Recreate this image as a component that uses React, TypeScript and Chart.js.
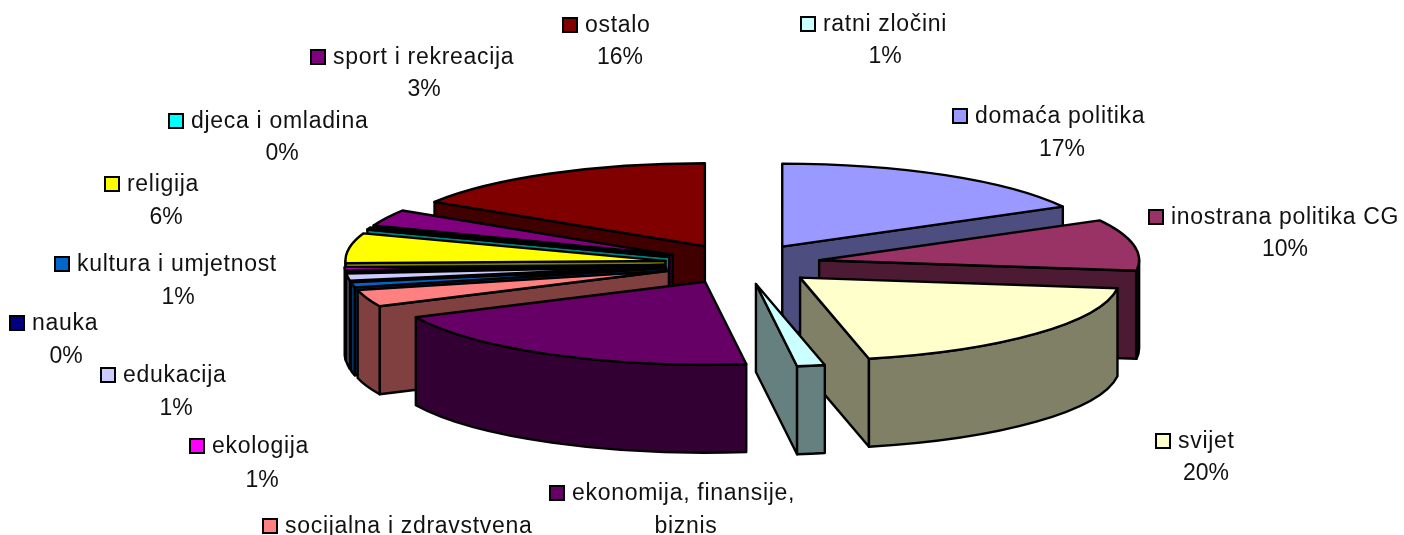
import React, { useEffect, useRef } from "react";
import { Chart, registerables } from "chart.js";

Chart.register(...registerables);

const categories = [
  "domaća politika", "inostrana politika CG", "svijet", "ratni zločini",
  "ekonomija, finansije, biznis", "socijalna i zdravstvena", "kultura i umjetnost",
  "edukacija", "nauka", "ekologija", "religija", "djeca i omladina",
  "sport i rekreacija", "ostalo",
];
const values = [17, 10, 19.5, 1.4, 20, 3.3, 1, 1.4, 0.3, 0.6, 5.8, 0.4, 3.2, 16];
const topColors = [
  "#9999FF", "#993366", "#FFFFCC", "#CCFFFF", "#660066", "#FF8080", "#0066CC",
  "#CCCCFF", "#000080", "#FF00FF", "#FFFF00", "#00FFFF", "#800080", "#800000",
];
const wallColors = [
  "#4D4D80", "#4D1A33", "#808066", "#668080", "#330033", "#804040", "#003366",
  "#666680", "#000040", "#800080", "#808000", "#008080", "#400040", "#400000",
];
// slices painted back to front
const paintOrder = [13, 0, 12, 11, 10, 9, 8, 7, 6, 5, 1, 2, 3, 4];

// label layout: marker left, marker centre y, percent/second line centre x, second line y
const labelLayout: number[][] = [
  [953, 116, 1062, 150], [1149, 217, 1285, 250], [1156, 441, 1206, 474], [801, 24, 885, 57],
  [550, 493, 686, 527], [263, 526, 0, 0], [55, 264, 178, 298],
  [101, 375, 176, 409], [10, 323, 66, 357], [190, 446, 262, 481], [105, 184, 166, 218],
  [169, 121, 282, 154], [311, 57, 424, 90], [563, 25, 620, 58],
];
// names whose text wraps differently from "name / percent"
const firstLineOverride: Record<number, string> = { 4: "ekonomija, finansije," };
const secondLineOverride: Record<number, string> = { 4: "biznis", 5: "" };

const CX = 742.5, CY = 264, RX = 320, RY = 83, DEPTH = 88, EXPLODE = 78;
const NAME_FONT = '23px "Liberation Sans", Arial, sans-serif';
const PCT_FONT = '23px "Liberation Sans", Arial, sans-serif';

const pie3d = {
  id: "pie3d",
  beforeDatasetsDraw(chart: any) {
    const ctx: CanvasRenderingContext2D = chart.ctx;
    const meta = chart.getDatasetMeta(0);
    for (const i of paintOrder) {
      const arc: any = meta.data[i];
      const { x, y, startAngle: s, endAngle: e, outerRadius: R } = arc;
      const sx = RX / R, sy = RY / R;
      const mid = (s + e) / 2;
      const ax = CX + EXPLODE * Math.cos(mid);
      const ay = CY + (EXPLODE * RY / RX) * Math.sin(mid);
      const pt = (a: number, dz = 0): [number, number] => [
        ax + RX * Math.cos(a), ay + RY * Math.sin(a) + dz,
      ];
      ctx.save();
      ctx.lineWidth = 2.4;
      ctx.lineJoin = "round";
      ctx.strokeStyle = "#000";
      ctx.fillStyle = wallColors[i];

      const quad = (a: number) => {
        const p = pt(a), q = pt(a, DEPTH);
        ctx.beginPath();
        ctx.moveTo(ax, ay);
        ctx.lineTo(p[0], p[1]);
        ctx.lineTo(q[0], q[1]);
        ctx.lineTo(ax, ay + DEPTH);
        ctx.closePath();
        ctx.fill();
        ctx.stroke();
      };
      if (Math.cos(s) < 0) quad(s);
      if (Math.cos(e) > 0) quad(e);

      const a0 = Math.max(s, 0), a1 = Math.min(e, Math.PI);
      if (a1 > a0) {
        ctx.beginPath();
        ctx.ellipse(ax, ay, RX, RY, 0, a0, a1);
        ctx.ellipse(ax, ay + DEPTH, RX, RY, 0, a1, a0, true);
        ctx.closePath();
        ctx.fill();
        ctx.stroke();
      }

      // top face: the library's own arc element, projected
      ctx.save();
      ctx.translate(ax, ay);
      ctx.scale(sx, sy);
      ctx.translate(-x, -y);
      arc.draw(ctx);
      ctx.restore();

      ctx.beginPath();
      ctx.moveTo(ax, ay);
      ctx.ellipse(ax, ay, RX, RY, 0, s, e);
      ctx.closePath();
      ctx.stroke();
      ctx.restore();
    }
    return false;
  },
  afterDraw(chart: any) {
    const ctx: any = chart.ctx;
    ctx.save();
    ctx.textBaseline = "middle";
    categories.forEach((name, i) => {
      const [mx, my, px, py] = labelLayout[i];
      ctx.fillStyle = topColors[i];
      ctx.strokeStyle = "#000";
      ctx.lineWidth = 2;
      ctx.fillRect(mx, my - 7, 14, 14);
      ctx.strokeRect(mx, my - 7, 14, 14);
      ctx.fillStyle = "#111";
      ctx.textAlign = "left";
      ctx.font = NAME_FONT;
      ctx.letterSpacing = "0.7px";
      ctx.fillText(firstLineOverride[i] ?? name, mx + 22, my + 1);
      const second = secondLineOverride[i] ?? `${Math.round(values[i])}%`;
      if (second) {
        ctx.textAlign = "center";
        ctx.font = PCT_FONT;
        ctx.letterSpacing = i === 4 ? "0.7px" : "0px";
        ctx.fillText(second, px, py);
      }
    });
    ctx.restore();
  },
};

export default function App() {
  const ref = useRef<HTMLCanvasElement>(null);
  useEffect(() => {
    const chart = new Chart(ref.current!, {
      type: "pie",
      data: {
        labels: categories,
        datasets: [{ data: values, backgroundColor: topColors, borderWidth: 0 }],
      },
      options: {
        animation: false,
        responsive: false,
        plugins: { legend: { display: false }, tooltip: { enabled: false } },
      },
      plugins: [pie3d],
    } as any);
    return () => chart.destroy();
  }, []);
  return (
    <canvas
      ref={ref}
      width={1404}
      height={535}
      style={{ position: "absolute", left: 0, top: 0, display: "block", background: "#fff" }}
    />
  );
}
